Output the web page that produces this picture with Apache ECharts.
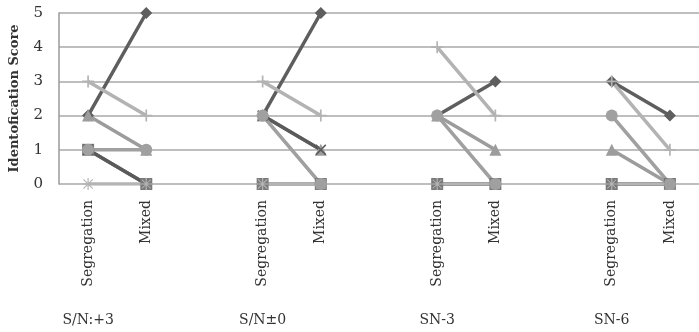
<!DOCTYPE html>
<html>
<head>
<meta charset="utf-8">
<script src="https://cdn.jsdelivr.net/npm/echarts@6/dist/echarts.min.js"></script>
<style>
html,body{margin:0;padding:0;background:#fff;}
#chart{width:699px;height:332px;}
</style>
</head>
<body>
<div id="chart"></div>
<script>
// ---- data ----
const groups = ['S/N:+3', 'S/N\u00b10', 'SN-3', 'SN-6'];
const conditions = ['Segregation', 'Mixed'];
const yTicks = [0, 1, 2, 3, 4, 5];
const yTitle = 'Identofication Score';
// each entry: [Segregation, Mixed] per group
const diamondSeries  = [[2, 5], [2, 5], [2, 3], [3, 2]];
const squareSeries   = [[1, 0], [0, 0], [0, 0], [0, 0]];
const triangleSeries = [[2, 1], [2, 1], [2, 1], [1, 0]];
const crossSeries    = [[1, 0], [2, 1], [0, 0], [0, 0]];
const asteriskSeries = [[0, 0], [0, 0], [0, 0], [0, 0]];
const circleSeries   = [[1, 1], [2, 0], [2, 0], [2, 0]];
const plusSeries     = [[3, 2], [3, 2], [4, 2], [3, 1]];

// ---- build ----
const cats = [], groupCats = [];
groups.forEach((g, i) => {
  conditions.forEach((c, j) => { cats.push(c); groupCats.push(j === 0 ? g : ''); });
  if (i < groups.length - 1) { cats.push(''); groupCats.push(''); }
});
function flat(arr) {
  const out = [];
  arr.forEach((p, i) => { out.push(p[0], p[1]); if (i < arr.length - 1) out.push('-'); });
  return out;
}
const FONT = 'DejaVu Serif';
const PLUS = 'path://M4.3,0L5.7,0L5.7,4.3L10,4.3L10,5.7L5.7,5.7L5.7,10L4.3,10L4.3,5.7L0,5.7L0,4.3L4.3,4.3Z';
const CROSS = 'path://M1,0L5,4L9,0L10,1L6,5L10,9L9,10L5,6L1,10L0,9L4,5L0,1Z';
const AST = 'path://M4.5,0L5.5,0L5.5,4.5L10,4.5L10,5.5L5.5,5.5L5.5,10L4.5,10L4.5,5.5L0,5.5L0,4.5L4.5,4.5Z M1.5,0.8L5,4.3L8.5,0.8L9.2,1.5L5.7,5L9.2,8.5L8.5,9.2L5,5.7L1.5,9.2L0.8,8.5L4.3,5L0.8,1.5Z';

const defs = [
  {name: 'A', data: diamondSeries,  symbol: 'diamond',  size: 12, color: '#5e5e5e'},
  {name: 'B', data: squareSeries,   symbol: 'rect',     size: 12, color: '#7b7b7b'},
  {name: 'C', data: triangleSeries, symbol: 'triangle', size: 12, color: '#9c9c9c'},
  {name: 'D', data: crossSeries,    symbol: CROSS,      size: 11, color: '#5a5a5a'},
  {name: 'E', data: asteriskSeries, symbol: AST,        size: 12, color: '#b4b4b4'},
  {name: 'F', data: circleSeries,   symbol: 'circle',   size: 12, color: '#a0a0a0'},
  {name: 'G', data: plusSeries,     symbol: PLUS,       size: 12, color: '#b3b3b3'}
];

const chart = echarts.init(document.getElementById('chart'), null, {renderer: 'canvas'});
chart.setOption({
  animation: false,
  backgroundColor: '#ffffff',
  grid: {left: 57, top: 13, bottom: 148, right: -7, containLabel: false},
  xAxis: [{
    type: 'category', data: cats, boundaryGap: true,
    axisLine: {show: false}, axisTick: {show: false}, splitLine: {show: false},
    axisLabel: {rotate: 90, margin: 16, interval: 0, fontFamily: FONT, fontSize: 14, color: '#333'}
  }, {
    type: 'category', data: groupCats, boundaryGap: true, position: 'bottom', offset: 122,
    axisLine: {show: false}, axisTick: {show: false}, splitLine: {show: false},
    axisLabel: {margin: 7, interval: 0, fontFamily: FONT, fontSize: 14, color: '#333'}
  }],
  yAxis: {
    type: 'value', min: yTicks[0], max: yTicks[yTicks.length - 1], interval: 1,
    name: yTitle, nameLocation: 'middle', nameGap: 38,
    nameTextStyle: {fontFamily: FONT, fontSize: 13, fontWeight: 'bold', color: '#333'},
    axisLine: {show: true, lineStyle: {color: '#9a9a9a', width: 1.5}},
    axisTick: {show: false},
    axisLabel: {margin: 16, fontFamily: FONT, fontSize: 15, color: '#333'},
    splitLine: {lineStyle: {color: '#a8a8a8', width: 1.5}}
  },
  series: defs.map(d => ({
    name: d.name, type: 'line', xAxisIndex: 0, data: flat(d.data),
    symbol: d.symbol, symbolSize: d.size, showSymbol: true,
    lineStyle: {color: d.color, width: 3.5},
    itemStyle: {color: d.color},
    connectNulls: false
  }))
});
</script>
</body>
</html>
